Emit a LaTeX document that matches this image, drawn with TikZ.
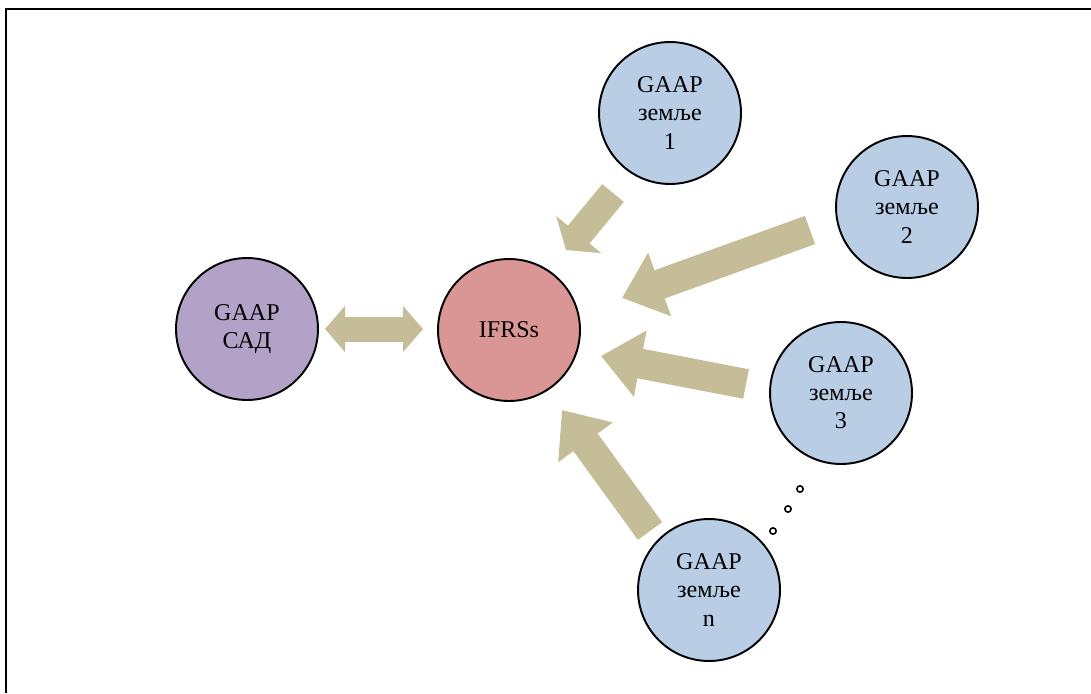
\documentclass[tikz,border=0pt]{standalone}
\usepackage{fontspec}
\setmainfont{Liberation Serif}
\usetikzlibrary{arrows.meta}
\definecolor{gaapblue}{HTML}{B9CDE5}
\definecolor{usapurple}{HTML}{B3A2C7}
\definecolor{ifrsred}{HTML}{D99694}
\definecolor{arrowtan}{HTML}{C4BD97}
\begin{document}
\begin{tikzpicture}[
  x=0.02cm,y=-0.02cm,
  gaap/.style={circle, draw, line width=1.1pt, minimum size=2.84cm, inner sep=0pt, align=center, font=\fontsize{13.7}{16}\selectfont},
  fat/.style={draw=arrowtan, line width=0.6cm, -{Triangle[width=1.3cm, length=0.8cm]}},
  dot/.style={circle, draw, fill=white, inner sep=0pt, minimum size=3.6pt, line width=0.9pt}
]
\useasboundingbox (0,0) rectangle (1091,693);
\draw[line width=0.04cm] (6,693) -- (6,9) -- (1091,9);
\node[gaap, fill=usapurple] (usa) at (247,329) {GAAP\\САД};
\node[gaap, fill=ifrsred] (ifrs) at (509,330) {IFRSs};
\node[gaap, fill=gaapblue] (g1) at (670,113) {GAAP\\земље\\1};
\node[gaap, fill=gaapblue] (g2) at (907,207) {GAAP\\земље\\2};
\node[gaap, fill=gaapblue] (g3) at (841,393) {GAAP\\земље\\3};
\node[gaap, fill=gaapblue] (gn) at (709,590) {GAAP\\земље\\n};
\coordinate (dl) at (325,329);
\coordinate (dr) at (423,329);
\coordinate (t1) at (613,193);
\coordinate (h1) at (566,250);
\coordinate (t2) at (810,230);
\coordinate (h2) at (622,298);
\coordinate (t3) at (746,384);
\coordinate (h3) at (601,356);
\coordinate (tn) at (650,531);
\coordinate (hn) at (562,410);
\draw[draw=arrowtan, line width=0.5cm, {Triangle[width=0.9cm, length=0.4cm]}-{Triangle[width=0.9cm, length=0.4cm]}] (dl) -- (dr);
\draw[fat, line width=0.56cm, -{Triangle[width=1.15cm, length=0.4cm]}] (t1) -- (h1);
\draw[fat] (t2) -- (h2);
\draw[fat] (t3) -- (h3);
\draw[fat] (tn) -- (hn);
\node[dot] (d1) at (800,489) {};
\node[dot] (d2) at (788,509) {};
\node[dot] (d3) at (773,531) {};
\end{tikzpicture}
\end{document}
